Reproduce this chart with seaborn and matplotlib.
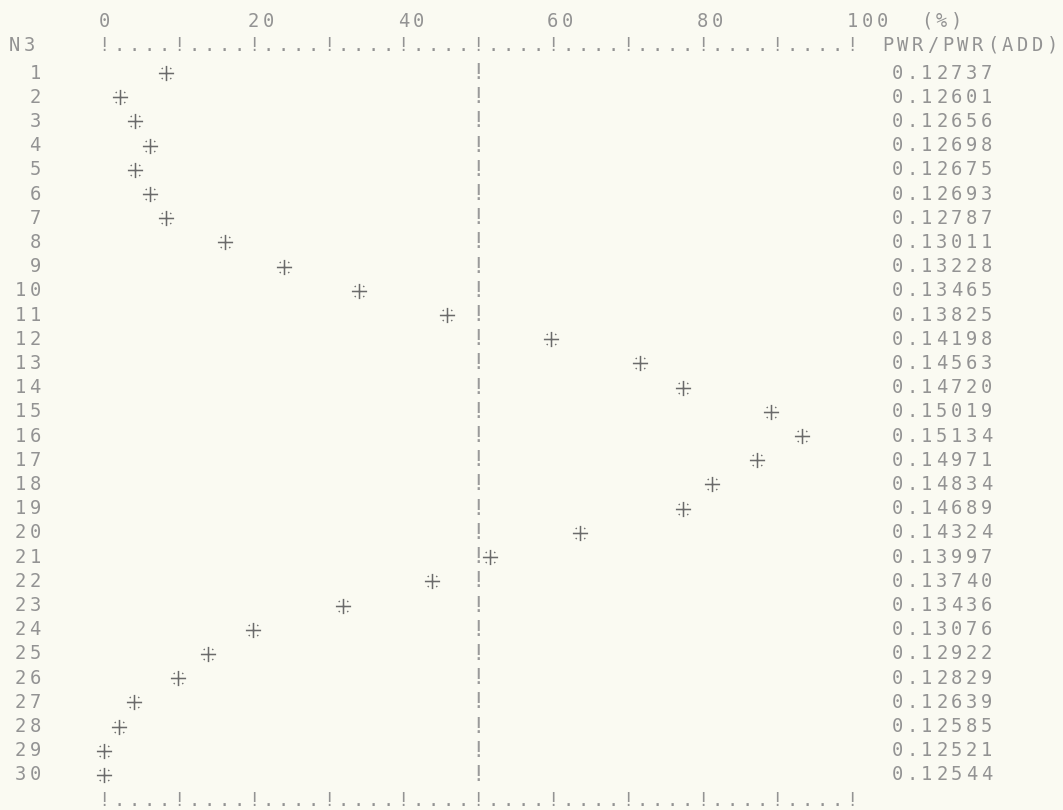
import pandas as pd
import seaborn as sns
import matplotlib.pyplot as plt
from matplotlib.path import Path
from matplotlib.markers import MarkerStyle

# row number and plotted position (% of scale)
n3 = list(range(1, 31))
pct = [8.3, 2.2, 4.1, 6.2, 4.2, 6.1, 8.3, 16.2, 24.1, 34.1,
       45.9, 59.7, 71.7, 77.4, 89.2, 93.3, 87.3, 81.3, 77.4, 63.6,
       51.6, 43.8, 32.0, 19.9, 13.9, 9.9, 4.0, 2.0, 0.0, 0.0]
pwr = [0.12737, 0.12601, 0.12656, 0.12698, 0.12675, 0.12693, 0.12787, 0.13011,
       0.13228, 0.13465, 0.13825, 0.14198, 0.14563, 0.14720, 0.15019, 0.15134,
       0.14971, 0.14834, 0.14689, 0.14324, 0.13997, 0.13740, 0.13436, 0.13076,
       0.12922, 0.12829, 0.12639, 0.12585, 0.12521, 0.12544]
ticks = [0, 20, 40, 60, 80, 100]

df = pd.DataFrame({"N3": n3, "pct": pct, "pwr": pwr})

sns.set_theme(style="white")
paper = "#fafaf2"
ink = "#939393"
plt.rcParams["font.family"] = ["DejaVu Sans Mono", "DejaVu Sans"]

fig = plt.figure(figsize=(10.63, 8.10), dpi=100, facecolor=paper)
ax = fig.add_axes([104 / 1063, 0, 748 / 1063, 1])
ax.set_facecolor(paper)


def put(col, row, s, color=ink, size=13.5):
    # line printer: one character per column, a column is 2 % wide
    for i, ch in enumerate(s):
        if ch != " ":
            ax.text((col + i) * 2, row, ch, ha="center", va="center",
                    size=size, color=color, clip_on=False)


# printer asterisk: a plus with four small corner dots
star = Path([(-1, 0), (1, 0), (0, -1), (0, 1),
             (-0.62, -0.72), (-0.5, -0.6), (0.5, -0.6), (0.62, -0.72),
             (-0.62, 0.72), (-0.5, 0.6), (0.5, 0.6), (0.62, 0.72)],
            [Path.MOVETO, Path.LINETO] * 6)

sns.scatterplot(data=df, x="pct", y="N3", marker=MarkerStyle(star), s=120,
                color="#6a6a6a", edgecolor="#6a6a6a", linewidth=1.1,
                legend=False, ax=ax, zorder=3, clip_on=False)

# scale labels and rulers
for t in ticks:
    put(t / 2, -1.15, str(t))
put(55, -1.15, "(%)")
ruler = "".join("!" if c % 5 == 0 else "." for c in range(51))
put(0, -0.15, ruler)
put(0, 31.05, ruler)
put(-6, -0.15, "N3")
put(52.4, -0.15, "PWR/PWR(ADD)")

# the 50 % line and the row labels / values
for r, v in zip(n3, pwr):
    put(25, r, "!", color="#9a9a9a", size=16)
    lab = str(r)
    put(-3.6 - len(lab), r, lab)
    put(53, r, f"{v:.5f}")

ax.set_xlim(0, 100)
ax.set_ylim(31.45, -2.02)
ax.axis("off")

fig.savefig("out.png", dpi=100, facecolor=paper)
